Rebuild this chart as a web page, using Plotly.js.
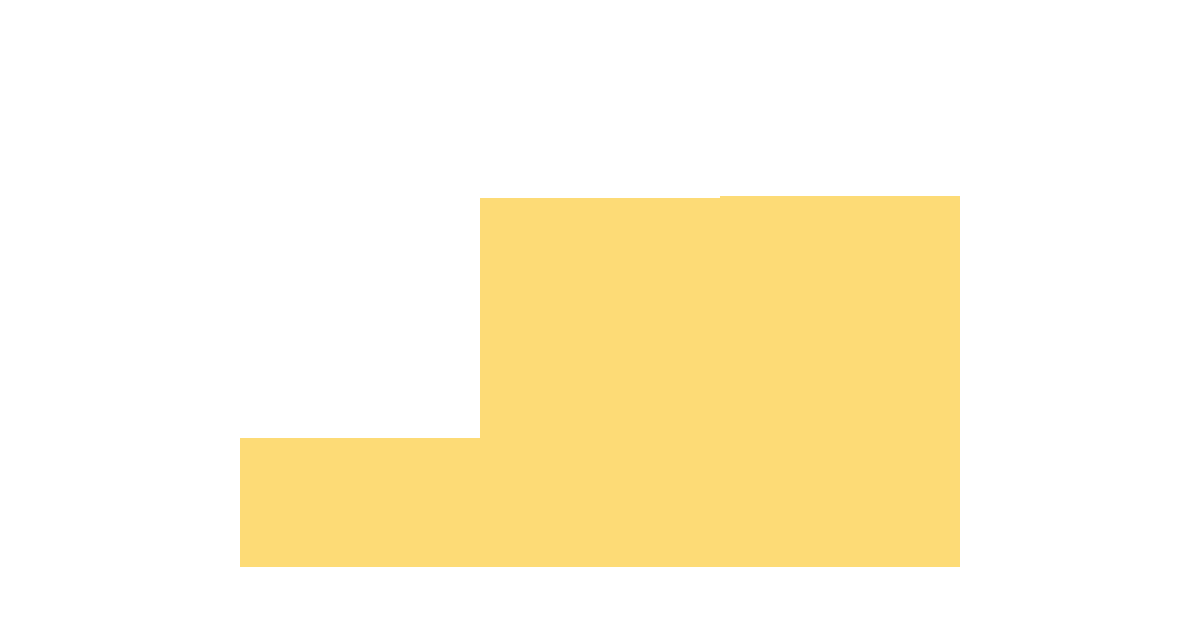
<!DOCTYPE html>
<html>
<head>
<meta charset="utf-8">
<script src="https://cdn.plot.ly/plotly-3.0.1.min.js"></script>
<style>
  html, body { margin: 0; padding: 0; background: #fff; }
  #plot { width: 1200px; height: 630px; }
</style>
</head>
<body>
<div id="plot"></div>
<script>
const categories = ["A", "B", "C"];
const values = [34.8, 99.5, 100];

const bars = {
    type: "bar",
    x: categories,
    y: values,
    marker: {color: "#fddb76", line: {width: 0}},
    hoverinfo: "none"
};

Plotly.newPlot("plot", [bars], {
    width: 1200,
    height: 630,
    margin: {l: 240, r: 240, t: 60, b: 63},
    bargap: 0,
    showlegend: false,
    paper_bgcolor: "#fff",
    plot_bgcolor: "#fff",
    xaxis: {visible: false},
    yaxis: {visible: false, range: [0, 136.7]}
}, {staticPlot: true});
</script>
</body>
</html>
